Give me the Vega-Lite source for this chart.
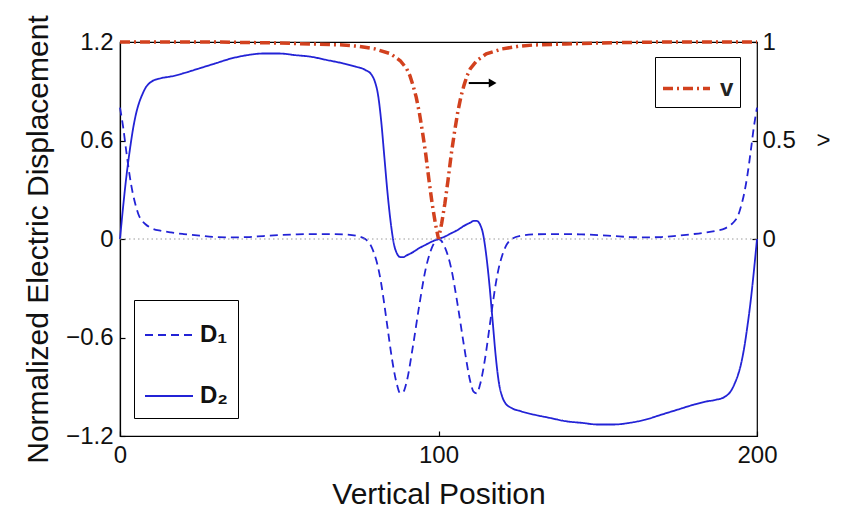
{
  "$schema": "https://vega.github.io/schema/vega-lite/v6.json",
  "width": 637,
  "height": 394,
  "autosize": {"type": "none"},
  "padding": {"left": 120, "top": 42, "right": 84, "bottom": 76},
  "background": "white",
  "config": {
    "view": {"stroke": "black", "strokeWidth": 1.2},
    "font": "Liberation Sans",
    "axis": {
      "grid": false,
      "domainColor": "black",
      "domainWidth": 1.2,
      "tickColor": "black",
      "tickWidth": 1.2,
      "tickSize": -5,
      "labelColor": "#111",
      "titleColor": "#111",
      "labelFont": "Liberation Sans",
      "titleFont": "Liberation Sans",
      "labelFontSize": 24,
      "titleFontWeight": "normal"
    }
  },
  "datasets": {
    "D": [
      {"series": "D₁", "x": 0, "y": 0.8}, {"series": "D₁", "x": 1, "y": 0.68}, {"series": "D₁", "x": 2, "y": 0.53}, {"series": "D₁", "x": 3, "y": 0.39}, {"series": "D₁", "x": 4, "y": 0.28}, {"series": "D₁", "x": 5, "y": 0.2}, {"series": "D₁", "x": 6, "y": 0.14}, {"series": "D₁", "x": 7, "y": 0.11}, {"series": "D₁", "x": 8, "y": 0.09}, {"series": "D₁", "x": 10, "y": 0.065}, {"series": "D₁", "x": 13, "y": 0.05}, {"series": "D₁", "x": 16, "y": 0.04}, {"series": "D₁", "x": 20, "y": 0.03}, {"series": "D₁", "x": 25, "y": 0.02}, {"series": "D₁", "x": 30, "y": 0.012}, {"series": "D₁", "x": 35, "y": 0.01}, {"series": "D₁", "x": 40, "y": 0.012}, {"series": "D₁", "x": 45, "y": 0.018}, {"series": "D₁", "x": 50, "y": 0.024}, {"series": "D₁", "x": 55, "y": 0.028}, {"series": "D₁", "x": 60, "y": 0.03}, {"series": "D₁", "x": 65, "y": 0.03}, {"series": "D₁", "x": 70, "y": 0.028}, {"series": "D₁", "x": 74, "y": 0.02}, {"series": "D₁", "x": 77, "y": 0.0}, {"series": "D₁", "x": 79, "y": -0.05}, {"series": "D₁", "x": 80, "y": -0.1}, {"series": "D₁", "x": 81, "y": -0.17}, {"series": "D₁", "x": 82, "y": -0.27}, {"series": "D₁", "x": 83, "y": -0.4}, {"series": "D₁", "x": 84, "y": -0.54}, {"series": "D₁", "x": 85, "y": -0.68}, {"series": "D₁", "x": 86, "y": -0.8}, {"series": "D₁", "x": 87, "y": -0.89}, {"series": "D₁", "x": 88, "y": -0.94}, {"series": "D₁", "x": 89, "y": -0.93}, {"series": "D₁", "x": 90, "y": -0.87}, {"series": "D₁", "x": 92, "y": -0.65}, {"series": "D₁", "x": 94, "y": -0.4}, {"series": "D₁", "x": 96, "y": -0.18}, {"series": "D₁", "x": 98, "y": -0.05}, {"series": "D₁", "x": 100, "y": 0.0},
      {"series": "D₁", "x": 102, "y": -0.05}, {"series": "D₁", "x": 104, "y": -0.18}, {"series": "D₁", "x": 106, "y": -0.4}, {"series": "D₁", "x": 108, "y": -0.65}, {"series": "D₁", "x": 110, "y": -0.87}, {"series": "D₁", "x": 111, "y": -0.93}, {"series": "D₁", "x": 112, "y": -0.94}, {"series": "D₁", "x": 113, "y": -0.89}, {"series": "D₁", "x": 114, "y": -0.8}, {"series": "D₁", "x": 115, "y": -0.68}, {"series": "D₁", "x": 116, "y": -0.54}, {"series": "D₁", "x": 117, "y": -0.4}, {"series": "D₁", "x": 118, "y": -0.27}, {"series": "D₁", "x": 119, "y": -0.17}, {"series": "D₁", "x": 120, "y": -0.1}, {"series": "D₁", "x": 121, "y": -0.05}, {"series": "D₁", "x": 123, "y": 0.0}, {"series": "D₁", "x": 126, "y": 0.02}, {"series": "D₁", "x": 130, "y": 0.028}, {"series": "D₁", "x": 135, "y": 0.03}, {"series": "D₁", "x": 140, "y": 0.03}, {"series": "D₁", "x": 145, "y": 0.028}, {"series": "D₁", "x": 150, "y": 0.024}, {"series": "D₁", "x": 155, "y": 0.018}, {"series": "D₁", "x": 160, "y": 0.012}, {"series": "D₁", "x": 165, "y": 0.01}, {"series": "D₁", "x": 170, "y": 0.012}, {"series": "D₁", "x": 175, "y": 0.02}, {"series": "D₁", "x": 180, "y": 0.03}, {"series": "D₁", "x": 184, "y": 0.04}, {"series": "D₁", "x": 187, "y": 0.05}, {"series": "D₁", "x": 190, "y": 0.065}, {"series": "D₁", "x": 192, "y": 0.09}, {"series": "D₁", "x": 193, "y": 0.11}, {"series": "D₁", "x": 194, "y": 0.14}, {"series": "D₁", "x": 195, "y": 0.2}, {"series": "D₁", "x": 196, "y": 0.28}, {"series": "D₁", "x": 197, "y": 0.39}, {"series": "D₁", "x": 198, "y": 0.53}, {"series": "D₁", "x": 199, "y": 0.68}, {"series": "D₁", "x": 200, "y": 0.8},
      {"series": "D₂", "x": 0, "y": 0.0}, {"series": "D₂", "x": 1, "y": 0.2}, {"series": "D₂", "x": 2, "y": 0.38}, {"series": "D₂", "x": 3, "y": 0.53}, {"series": "D₂", "x": 4, "y": 0.66}, {"series": "D₂", "x": 5, "y": 0.76}, {"series": "D₂", "x": 6, "y": 0.83}, {"series": "D₂", "x": 7, "y": 0.88}, {"series": "D₂", "x": 8, "y": 0.92}, {"series": "D₂", "x": 10, "y": 0.96}, {"series": "D₂", "x": 13, "y": 0.98}, {"series": "D₂", "x": 16, "y": 0.99}, {"series": "D₂", "x": 20, "y": 1.01}, {"series": "D₂", "x": 25, "y": 1.04}, {"series": "D₂", "x": 30, "y": 1.07}, {"series": "D₂", "x": 35, "y": 1.1}, {"series": "D₂", "x": 40, "y": 1.12}, {"series": "D₂", "x": 45, "y": 1.13}, {"series": "D₂", "x": 50, "y": 1.13}, {"series": "D₂", "x": 55, "y": 1.12}, {"series": "D₂", "x": 60, "y": 1.11}, {"series": "D₂", "x": 65, "y": 1.09}, {"series": "D₂", "x": 70, "y": 1.07}, {"series": "D₂", "x": 74, "y": 1.05}, {"series": "D₂", "x": 77, "y": 1.03}, {"series": "D₂", "x": 79, "y": 1.0}, {"series": "D₂", "x": 80, "y": 0.96}, {"series": "D₂", "x": 81, "y": 0.88}, {"series": "D₂", "x": 82, "y": 0.72}, {"series": "D₂", "x": 83, "y": 0.5}, {"series": "D₂", "x": 84, "y": 0.28}, {"series": "D₂", "x": 85, "y": 0.1}, {"series": "D₂", "x": 86, "y": -0.03}, {"series": "D₂", "x": 87, "y": -0.09}, {"series": "D₂", "x": 88, "y": -0.11}, {"series": "D₂", "x": 89, "y": -0.11}, {"series": "D₂", "x": 90, "y": -0.1}, {"series": "D₂", "x": 92, "y": -0.08}, {"series": "D₂", "x": 94, "y": -0.055}, {"series": "D₂", "x": 96, "y": -0.035}, {"series": "D₂", "x": 98, "y": -0.015}, {"series": "D₂", "x": 100, "y": 0.0},
      {"series": "D₂", "x": 102, "y": 0.015}, {"series": "D₂", "x": 104, "y": 0.035}, {"series": "D₂", "x": 106, "y": 0.055}, {"series": "D₂", "x": 108, "y": 0.08}, {"series": "D₂", "x": 110, "y": 0.1}, {"series": "D₂", "x": 111, "y": 0.11}, {"series": "D₂", "x": 112, "y": 0.11}, {"series": "D₂", "x": 113, "y": 0.09}, {"series": "D₂", "x": 114, "y": 0.03}, {"series": "D₂", "x": 115, "y": -0.1}, {"series": "D₂", "x": 116, "y": -0.28}, {"series": "D₂", "x": 117, "y": -0.5}, {"series": "D₂", "x": 118, "y": -0.72}, {"series": "D₂", "x": 119, "y": -0.88}, {"series": "D₂", "x": 120, "y": -0.96}, {"series": "D₂", "x": 121, "y": -1.0}, {"series": "D₂", "x": 123, "y": -1.03}, {"series": "D₂", "x": 126, "y": -1.05}, {"series": "D₂", "x": 130, "y": -1.07}, {"series": "D₂", "x": 135, "y": -1.09}, {"series": "D₂", "x": 140, "y": -1.11}, {"series": "D₂", "x": 145, "y": -1.12}, {"series": "D₂", "x": 150, "y": -1.13}, {"series": "D₂", "x": 155, "y": -1.13}, {"series": "D₂", "x": 160, "y": -1.12}, {"series": "D₂", "x": 165, "y": -1.1}, {"series": "D₂", "x": 170, "y": -1.07}, {"series": "D₂", "x": 175, "y": -1.04}, {"series": "D₂", "x": 180, "y": -1.01}, {"series": "D₂", "x": 184, "y": -0.99}, {"series": "D₂", "x": 187, "y": -0.98}, {"series": "D₂", "x": 190, "y": -0.96}, {"series": "D₂", "x": 192, "y": -0.92}, {"series": "D₂", "x": 193, "y": -0.88}, {"series": "D₂", "x": 194, "y": -0.83}, {"series": "D₂", "x": 195, "y": -0.76}, {"series": "D₂", "x": 196, "y": -0.66}, {"series": "D₂", "x": 197, "y": -0.53}, {"series": "D₂", "x": 198, "y": -0.38}, {"series": "D₂", "x": 199, "y": -0.2}, {"series": "D₂", "x": 200, "y": 0.0}
    ],
    "V": [
      {"series": "v", "x": 0, "v": 1.0}, {"series": "v", "x": 30, "v": 1.0}, {"series": "v", "x": 50, "v": 0.995}, {"series": "v", "x": 60, "v": 0.99}, {"series": "v", "x": 70, "v": 0.985}, {"series": "v", "x": 75, "v": 0.978}, {"series": "v", "x": 80, "v": 0.965}, {"series": "v", "x": 85, "v": 0.94}, {"series": "v", "x": 88, "v": 0.905}, {"series": "v", "x": 90, "v": 0.865}, {"series": "v", "x": 91, "v": 0.83}, {"series": "v", "x": 92, "v": 0.78}, {"series": "v", "x": 93, "v": 0.72}, {"series": "v", "x": 94, "v": 0.64}, {"series": "v", "x": 95, "v": 0.54}, {"series": "v", "x": 96, "v": 0.43}, {"series": "v", "x": 97, "v": 0.3}, {"series": "v", "x": 98, "v": 0.18}, {"series": "v", "x": 99, "v": 0.08}, {"series": "v", "x": 100, "v": 0.0},
      {"series": "v", "x": 101, "v": 0.08}, {"series": "v", "x": 102, "v": 0.18}, {"series": "v", "x": 103, "v": 0.3}, {"series": "v", "x": 104, "v": 0.43}, {"series": "v", "x": 105, "v": 0.54}, {"series": "v", "x": 106, "v": 0.64}, {"series": "v", "x": 107, "v": 0.72}, {"series": "v", "x": 108, "v": 0.78}, {"series": "v", "x": 109, "v": 0.83}, {"series": "v", "x": 110, "v": 0.865}, {"series": "v", "x": 112, "v": 0.905}, {"series": "v", "x": 115, "v": 0.94}, {"series": "v", "x": 120, "v": 0.965}, {"series": "v", "x": 125, "v": 0.978}, {"series": "v", "x": 130, "v": 0.985}, {"series": "v", "x": 140, "v": 0.99}, {"series": "v", "x": 150, "v": 0.995}, {"series": "v", "x": 170, "v": 1.0}, {"series": "v", "x": 200, "v": 1.0}
    ],
    "arrow": [{"x": 109.5, "xend": 117, "y": 0.95}]
  },
  "layer": [
    {
      "layer": [
        {
          "data": {"name": "D"},
          "mark": {"type": "line", "color": "#2323d6", "strokeWidth": 1.8, "interpolate": "monotone"},
          "encoding": {
            "x": {
              "field": "x", "type": "quantitative",
              "scale": {"domain": [0, 200], "nice": false},
              "axis": {"values": [0, 100, 200], "title": "Vertical Position", "titleFontSize": 30, "titlePadding": 12, "labelPadding": 12, "labelFlush": false}
            },
            "y": {
              "field": "y", "type": "quantitative",
              "scale": {"domain": [-1.2, 1.2], "nice": false},
              "axis": {"values": [-1.2, -0.6, 0, 0.6, 1.2], "format": "~g", "title": "Normalized Electric Displacement", "titleFontSize": 30, "titlePadding": 12, "labelPadding": 12, "labelFlush": false}
            },
            "strokeDash": {
              "field": "series", "type": "nominal",
              "scale": {"domain": ["D₁", "D₂"], "range": [[8, 5], [1, 0]]},
              "legend": {
                "orient": "none", "legendX": 14, "legendY": 258, "title": null,
                "strokeColor": "black", "fillColor": "white", "padding": 10, "rowPadding": 24,
                "symbolType": "stroke", "symbolSize": 2304, "symbolStrokeWidth": 2, "symbolStrokeColor": "#2323d6",
                "labelFontSize": 24, "labelFontWeight": "bold", "labelOffset": 6, "labelColor": "#111", "labelFont": "Liberation Sans"
              }
            }
          }
        },
        {
          "data": {"values": [{"level": 0}]},
          "mark": {"type": "rule", "color": "#9a9a9a", "strokeDash": [1.5, 3], "strokeWidth": 1},
          "encoding": {
            "x": {"datum": 0, "type": "quantitative"},
            "x2": {"datum": 200},
            "y": {"field": "level", "type": "quantitative"}
          }
        },
        {
          "data": {"name": "arrow"},
          "mark": {"type": "rule", "color": "black", "strokeWidth": 2},
          "encoding": {
            "x": {"field": "x", "type": "quantitative"},
            "x2": {"field": "xend"},
            "y": {"field": "y", "type": "quantitative"}
          }
        },
        {
          "data": {"name": "arrow"},
          "mark": {"type": "point", "shape": "triangle-right", "filled": true, "color": "black", "size": 80, "opacity": 1},
          "encoding": {
            "x": {"field": "xend", "type": "quantitative"},
            "y": {"field": "y", "type": "quantitative"}
          }
        }
      ]
    },
    {
      "data": {"name": "V"},
      "mark": {"type": "line", "color": "#d2411e", "strokeWidth": 3.5},
      "encoding": {
        "x": {"field": "x", "type": "quantitative"},
        "y": {
          "field": "v", "type": "quantitative",
          "scale": {"domain": [-1, 1], "nice": false},
          "axis": {"orient": "right", "values": [0, 0.5, 1], "format": "~g", "title": ">", "titleAngle": 0, "titleFontSize": 24, "titleX": 66, "titleY": 98, "titleAlign": "center", "titleBaseline": "middle", "labelPadding": 10, "labelFlush": false, "domain": false}
        },
        "strokeDash": {
          "field": "series", "type": "nominal",
          "scale": {"domain": ["v"], "range": [[10, 4, 2, 4]]},
          "legend": {
            "orient": "none", "legendX": 535, "legendY": 15, "title": null,
            "strokeColor": "black", "fillColor": "white", "padding": 6,
            "symbolType": "stroke", "symbolSize": 2209, "symbolStrokeWidth": 3.5, "symbolStrokeColor": "#d2411e",
            "labelFontSize": 24, "labelFontWeight": "bold", "labelOffset": 8, "labelColor": "#222", "labelFont": "Liberation Sans"
          }
        }
      }
    }
  ],
  "resolve": {"scale": {"y": "independent", "strokeDash": "independent"}}
}
